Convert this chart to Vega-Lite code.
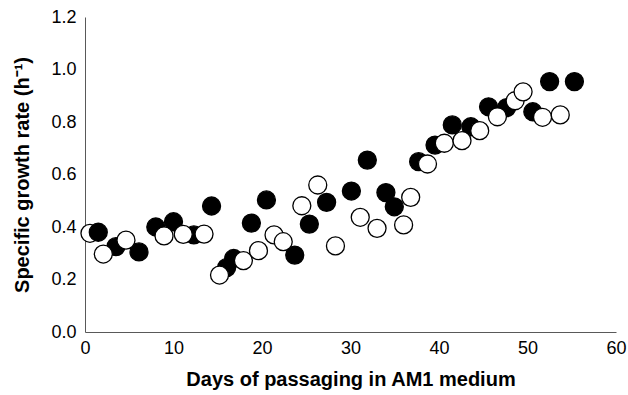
{
  "$schema": "https://vega.github.io/schema/vega-lite/v6.json",
  "width": 531,
  "height": 315,
  "autosize": {"type": "none"},
  "padding": {"left": 85, "top": 17, "right": 12, "bottom": 63},
  "background": "white",
  "config": {"view": {"stroke": null}, "font": "Liberation Sans"},
  "data": {"values": [
    {"day": 0.56, "rate": 0.376, "series": "open"},
    {"day": 1.5, "rate": 0.38, "series": "filled"},
    {"day": 3.5, "rate": 0.325, "series": "filled"},
    {"day": 6.1, "rate": 0.305, "series": "filled"},
    {"day": 8.0, "rate": 0.40, "series": "filled"},
    {"day": 10.0, "rate": 0.42, "series": "filled"},
    {"day": 12.3, "rate": 0.37, "series": "filled"},
    {"day": 14.3, "rate": 0.48, "series": "filled"},
    {"day": 16.0, "rate": 0.245, "series": "filled"},
    {"day": 16.8, "rate": 0.28, "series": "filled"},
    {"day": 18.8, "rate": 0.415, "series": "filled"},
    {"day": 20.5, "rate": 0.503, "series": "filled"},
    {"day": 23.7, "rate": 0.293, "series": "filled"},
    {"day": 25.35, "rate": 0.411, "series": "filled"},
    {"day": 27.3, "rate": 0.494, "series": "filled"},
    {"day": 30.1, "rate": 0.537, "series": "filled"},
    {"day": 31.9, "rate": 0.655, "series": "filled"},
    {"day": 34.0, "rate": 0.531, "series": "filled"},
    {"day": 34.95, "rate": 0.477, "series": "filled"},
    {"day": 37.7, "rate": 0.649, "series": "filled"},
    {"day": 39.55, "rate": 0.712, "series": "filled"},
    {"day": 41.5, "rate": 0.789, "series": "filled"},
    {"day": 43.6, "rate": 0.782, "series": "filled"},
    {"day": 45.6, "rate": 0.858, "series": "filled"},
    {"day": 47.65, "rate": 0.855, "series": "filled"},
    {"day": 50.6, "rate": 0.839, "series": "filled"},
    {"day": 52.5, "rate": 0.954, "series": "filled"},
    {"day": 55.3, "rate": 0.954, "series": "filled"},
    {"day": 2.07, "rate": 0.297, "series": "open"},
    {"day": 4.63, "rate": 0.35, "series": "open"},
    {"day": 8.93, "rate": 0.366, "series": "open"},
    {"day": 11.1, "rate": 0.372, "series": "open"},
    {"day": 13.45, "rate": 0.373, "series": "open"},
    {"day": 15.2, "rate": 0.217, "series": "open"},
    {"day": 17.9, "rate": 0.272, "series": "open"},
    {"day": 19.6, "rate": 0.31, "series": "open"},
    {"day": 21.36, "rate": 0.37, "series": "open"},
    {"day": 22.4, "rate": 0.344, "series": "open"},
    {"day": 24.5, "rate": 0.481, "series": "open"},
    {"day": 26.3, "rate": 0.56, "series": "open"},
    {"day": 28.3, "rate": 0.328, "series": "open"},
    {"day": 31.1, "rate": 0.437, "series": "open"},
    {"day": 33.0, "rate": 0.395, "series": "open"},
    {"day": 36.0, "rate": 0.408, "series": "open"},
    {"day": 36.8, "rate": 0.513, "series": "open"},
    {"day": 38.7, "rate": 0.64, "series": "open"},
    {"day": 40.6, "rate": 0.719, "series": "open"},
    {"day": 42.6, "rate": 0.729, "series": "open"},
    {"day": 44.6, "rate": 0.767, "series": "open"},
    {"day": 46.6, "rate": 0.82, "series": "open"},
    {"day": 48.6, "rate": 0.881, "series": "open"},
    {"day": 49.5, "rate": 0.915, "series": "open"},
    {"day": 51.7, "rate": 0.818, "series": "open"},
    {"day": 53.7, "rate": 0.827, "series": "open"}
  ]},
  "mark": {"type": "point", "shape": "circle", "filled": true, "size": 324, "stroke": "black", "strokeWidth": 1.3, "opacity": 1, "clip": false},
  "encoding": {
    "x": {
      "field": "day", "type": "quantitative",
      "scale": {"domain": [0, 60], "nice": false, "zero": false},
      "axis": {
        "title": "Days of passaging in AM1 medium",
        "values": [0, 10, 20, 30, 40, 50, 60],
        "grid": false, "ticks": false,
        "domainColor": "#595959", "domainWidth": 1,
        "labelFont": "Liberation Sans", "labelFontSize": 18, "labelColor": "black", "labelPadding": 7,
        "labelFlush": false,
        "titleFont": "Liberation Sans", "titleFontSize": 20, "titleFontWeight": "bold", "titleColor": "black", "titlePadding": 12
      }
    },
    "y": {
      "field": "rate", "type": "quantitative",
      "scale": {"domain": [0, 1.2], "nice": false, "zero": true},
      "axis": {
        "title": "Specific growth rate (h⁻¹)",
        "values": [0, 0.2, 0.4, 0.6, 0.8, 1.0, 1.2],
        "format": ".1f",
        "grid": false, "ticks": false,
        "domainColor": "#595959", "domainWidth": 1,
        "labelFont": "Liberation Sans", "labelFontSize": 18, "labelColor": "black", "labelPadding": 9,
        "labelFlush": false,
        "titleFont": "Liberation Sans", "titleFontSize": 20, "titleFontWeight": "bold", "titleColor": "black", "titlePadding": 18
      }
    },
    "fill": {
      "field": "series", "type": "nominal",
      "scale": {"domain": ["filled", "open"], "range": ["black", "white"]},
      "legend": null
    }
  }
}
